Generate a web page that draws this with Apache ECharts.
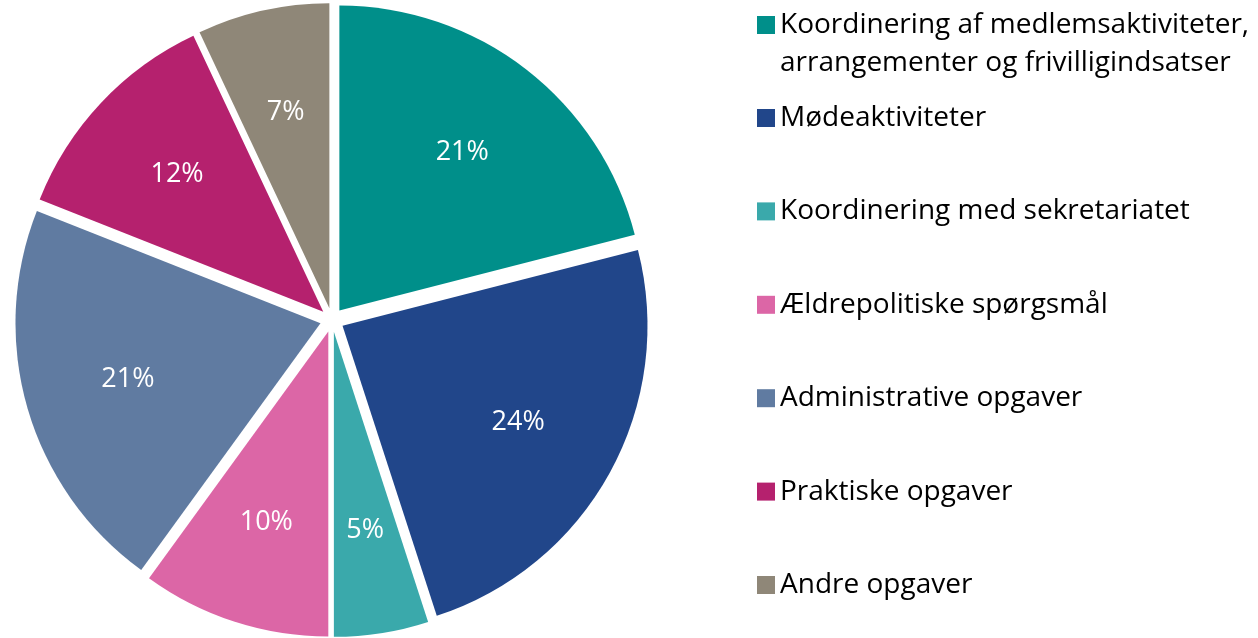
<!DOCTYPE html>
<html>
<head>
<meta charset="utf-8">
<script src="https://cdn.jsdelivr.net/npm/echarts@6/dist/echarts.min.js"></script>
<style>
html,body{margin:0;padding:0;background:#fff;}
#chart{width:1258px;height:638px;}
</style>
</head>
<body>
<div id="chart"></div>
<script>
const categories = [
  "Koordinering af medlemsaktiviteter,\narrangementer og frivilligindsatser",
  "Mødeaktiviteter",
  "Koordinering med sekretariatet",
  "Ældrepolitiske spørgsmål",
  "Administrative opgaver",
  "Praktiske opgaver",
  "Andre opgaver"
];
const values = [21, 24, 5, 10, 21, 12, 7];
const colors = ["#008f8a", "#21468a", "#3aa9ab", "#dc66a6", "#607ba1", "#b5216e", "#8f8778"];

const FONT = "'Open Sans'";
const data = categories.map((c, i) => ({
  name: c, value: values[i], selected: true,
  itemStyle: { color: colors[i] }
}));
const labelData = categories.map((c, i) => ({
  name: c, value: values[i], selected: true,
  itemStyle: { color: 'rgba(0,0,0,0)' }
}));

const chart = echarts.init(document.getElementById('chart'), null, { renderer: 'canvas' });
const common = {
  type: 'pie',
  center: [332, 320],
  startAngle: 90,
  clockwise: true,
  selectedMode: 'multiple',
  selectedOffset: 12,
  animation: false,
  emphasis: { scale: false, disabled: true },
  labelLine: { show: false }
};
chart.setOption({
  animation: false,
  color: colors,
  legend: [
    {
      data: [categories[0]],
      orient: 'vertical',
      left: 752,
      top: -37,
      icon: 'rect',
      itemWidth: 18,
      itemHeight: 18,
      selectedMode: false,
      formatter: n => '\n' + n,
      textStyle: { fontFamily: FONT, fontSize: 28, color: '#000', lineHeight: 38 }
    },
    {
      data: categories.slice(1),
      orient: 'vertical',
      left: 752,
      top: 96,
      icon: 'rect',
      itemWidth: 18,
      itemHeight: 18,
      itemGap: 59.4,
      selectedMode: false,
      textStyle: { fontFamily: FONT, fontSize: 28, color: '#000', lineHeight: 34 }
    }
  ],
  series: [
    Object.assign({}, common, {
      name: 'slices',
      radius: [0, 305],
      data: data,
      label: { show: false },
      select: { itemStyle: {} }
    }),
    Object.assign({}, common, {
      name: 'labels',
      radius: [90, 305],
      data: labelData,
      silent: true,
      z: 5,
      label: {
        show: true,
        position: 'inside',
        formatter: p => p.value + '%',
        color: '#fff',
        fontFamily: FONT,
        fontSize: 27
      },
      select: { itemStyle: { color: 'rgba(0,0,0,0)' } }
    })
  ]
});
</script>
</body>
</html>
